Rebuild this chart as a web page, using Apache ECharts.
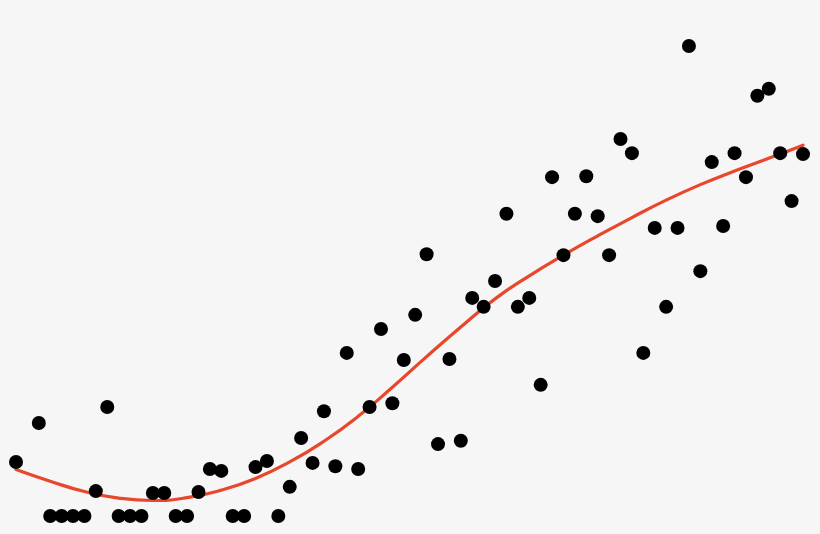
<!DOCTYPE html>
<html>
<head>
<meta charset="utf-8">
<script src="https://cdn.jsdelivr.net/npm/echarts@6/dist/echarts.min.js"></script>
<style>
html,body{margin:0;padding:0;background:#f6f6f6;}
#chart{width:820px;height:534px;}
</style>
</head>
<body>
<div id="chart"></div>
<script>
// Observation positions (x) and values (y)
const xValues = [0, 2, 3, 4, 5, 6, 7, 8, 9, 10, 11, 12, 13, 14, 15, 16, 17, 18, 19, 20,
  21, 22, 23, 24, 25, 26, 27, 28, 29, 30, 31, 32, 33, 34, 35, 36, 37, 38, 39, 40,
  41, 42, 43, 44, 45, 46, 47, 48, 49, 50, 51, 52, 53, 54, 55, 56, 57, 58, 59, 60,
  61, 62, 63, 64, 65, 66, 67, 68, 69];
const yValues = [11.5, 19.8, 0, 0, 0, 0, 5.3, 23.2, 0, 0, 0, 4.9, 4.9, 0, 0, 5.1, 10.0, 9.6, 0, 0,
  10.4, 11.7, 0, 6.2, 16.6, 11.3, 22.3, 10.6, 34.7, 10.0, 23.2, 39.8, 24.0, 33.2, 42.8, 55.7, 15.3, 33.4, 16.0, 46.4,
  44.5, 50.0, 64.3, 44.5, 46.4, 27.9, 72.1, 55.5, 64.3, 72.3, 63.8, 55.5, 80.2, 77.2, 34.7, 61.3, 44.5, 61.3, 100, 52.1,
  75.3, 61.7, 77.2, 72.1, 89.4, 90.9, 77.2, 67.0, 77.0];
// Fitted trend curve (every 3 units)
const fitX = [0, 3, 6, 9, 12, 15, 18, 21, 24, 27, 30, 33, 36, 39, 42, 45, 48, 51, 54, 57, 60, 63, 66, 69];
const fitY = [9.9, 7.4, 5.2, 3.8, 3.3, 3.9, 5.5, 8.0, 11.5, 15.9, 21.2, 27.4, 33.9, 40.2, 46.2, 51.1, 55.5, 59.6, 63.5, 67.2, 70.5, 73.4, 76.1, 78.9];

const points = xValues.map((x, i) => [x, yValues[i]]);
const fit = fitX.map((x, i) => [x, fitY[i]]);

const chart = echarts.init(document.getElementById('chart'), null, {renderer: 'canvas'});
chart.setOption({
  backgroundColor: '#f6f6f6',
  animation: false,
  grid: {left: 16, right: 17, top: 46, bottom: 18},
  xAxis: {type: 'value', min: 0, max: 69, show: false},
  yAxis: {type: 'value', min: 0, max: 100, show: false},
  series: [
    {
      type: 'line',
      data: fit,
      smooth: 0.5,
      showSymbol: false,
      lineStyle: {color: '#e8472b', width: 3.2, cap: 'round'},
      z: 1
    },
    {
      type: 'scatter',
      data: points,
      symbolSize: 14,
      itemStyle: {color: '#000000', opacity: 1},
      z: 2
    }
  ]
});
</script>
</body>
</html>
